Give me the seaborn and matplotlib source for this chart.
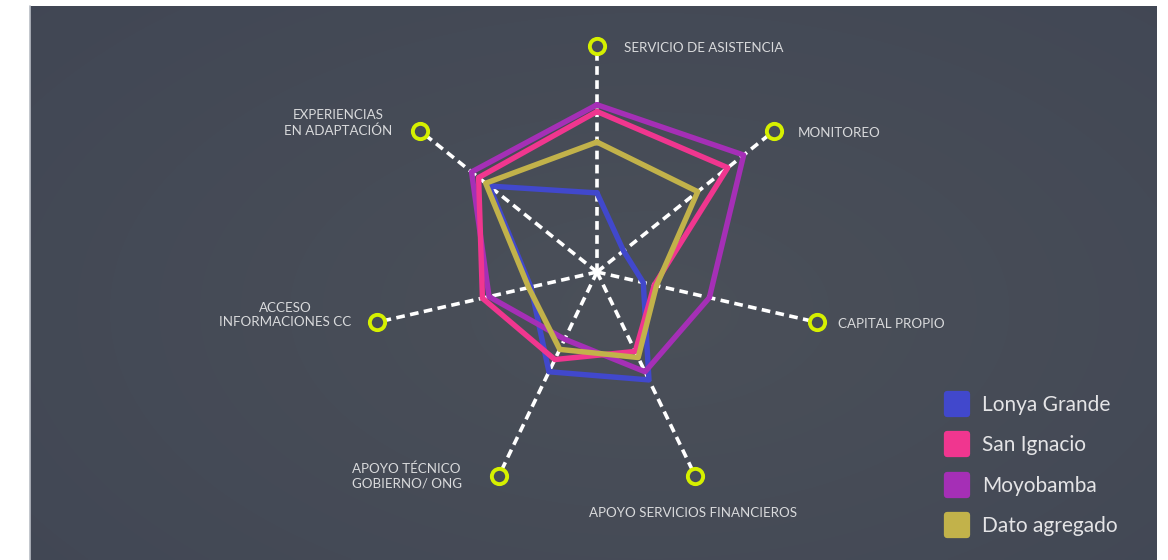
import numpy as np
import pandas as pd
import matplotlib
matplotlib.use("Agg")
import matplotlib.pyplot as plt
import seaborn as sns
from matplotlib.lines import Line2D
from matplotlib.markers import MarkerStyle

# ---------------- data ----------------
categories = [
    "SERVICIO DE ASISTENCIA",
    "MONITOREO",
    "CAPITAL PROPIO",
    "APOYO SERVICIOS FINANCIEROS",
    "APOYO TÉCNICO\nGOBIERNO/ ONG",
    "ACCESO\nINFORMACIONES CC",
    "EXPERIENCIAS\nEN ADAPTACIÓN",
]
series_names = ["Lonya Grande", "San Ignacio", "Moyobamba", "Dato agregado"]
lonya_grande = [0.35, 0.15, 0.21, 0.53, 0.49, 0.30, 0.61]
san_ignacio = [0.71, 0.74, 0.26, 0.39, 0.43, 0.52, 0.67]
moyobamba = [0.74, 0.83, 0.51, 0.49, 0.33, 0.49, 0.71]
dato_agregado = [0.575, 0.57, 0.27, 0.42, 0.38, 0.31, 0.63]

series_values = {
    "Lonya Grande": lonya_grande,
    "San Ignacio": san_ignacio,
    "Moyobamba": moyobamba,
    "Dato agregado": dato_agregado,
}
palette = {
    "Lonya Grande": "#4148cc",
    "San Ignacio": "#f0368f",
    "Moyobamba": "#a52fb6",
    "Dato agregado": "#c2b24a",
}
draw_order = ["Lonya Grande", "Moyobamba", "San Ignacio", "Dato agregado"]

# ---------------- style ----------------
sns.set_theme(style="white")
plt.rcParams["font.family"] = ["Lato", "DejaVu Sans"]

W, H = 1168, 560
fig = plt.figure(figsize=(W / 100, H / 100), dpi=100)
fig.patch.set_facecolor("white")

# background panel with soft gradient
bg_left, bg_right, bg_top = 30, 1157, 6
bg = fig.add_axes([bg_left / W, 0, (bg_right - bg_left) / W, (H - bg_top) / H])
yy, xx = np.mgrid[0:1:200j, 0:1:400j]
dist = np.sqrt(((xx - 0.55) / 0.8) ** 2 + ((yy - 0.55) / 0.9) ** 2)
dist = np.clip(dist, 0, 1)
c_in = np.array([0x4b, 0x50, 0x59]) / 255
c_out = np.array([0x40, 0x46, 0x54]) / 255
img = c_in[None, None, :] * (1 - dist[..., None]) + c_out[None, None, :] * dist[..., None]
bg.imshow(img, aspect="auto", interpolation="bilinear")
bg.axis("off")
# thin border line at left of panel
fig.add_artist(Line2D([bg_left / W, bg_left / W], [0, (H - bg_top) / H],
                      color="#b8bcc4", lw=1.2, transform=fig.transFigure))

# radar axes
cx, cy, R = 597, 272, 226
ax = fig.add_axes([(cx - R) / W, (H - cy - R) / H, 2 * R / W, 2 * R / H], projection="polar")
ax.set_theta_offset(np.pi / 2)
ax.set_theta_direction(-1)
ax.patch.set_alpha(0)
ax.grid(False)
ax.spines["polar"].set_visible(False)

n = len(categories)
angles = np.arange(n) * 2 * np.pi / n

# spokes
for a in angles:
    ax.plot([a, a], [0, 1], color="white", lw=2.6, dashes=(2.4, 1.5),
            dash_capstyle="butt", zorder=2, clip_on=False)

# series
rows = []
for name in series_names:
    vals = series_values[name]
    for i in range(n + 1):
        th = angles[i] if i < n else 2 * np.pi
        rows.append({"series": name, "theta": th, "value": vals[i % n]})
df = pd.DataFrame(rows)

for name in draw_order:
    sub = df[df["series"] == name]
    sns.lineplot(data=sub, x="theta", y="value", color=palette[name], sort=False,
                 estimator=None, lw=3.9, legend=False, ax=ax,
                 solid_joinstyle="round", zorder=3, clip_on=False)

# axis end rings
bgc = "#454b57"
ax.plot(angles, np.ones(n), ls="none", marker="o", ms=11, mfc=bgc, mec="#d6f000",
        mew=2.8, zorder=6, clip_on=False)

ax.set_ylim(0, 1)
ax.set_xticks([])
ax.set_yticks([])
ax.set_xlabel("")
ax.set_ylabel("")

# category labels (pixel anchors)
tc = "#d9dadc"
fs = 9.6
def ftext(x, y, s, ha, va="center", ma=None):
    fig.text(x / W, 1 - y / H, s, ha=ha, va=va, color=tc, fontsize=fs,
             multialignment=ma or ha, linespacing=1.25)

ftext(624, 48, categories[0], "left")
ftext(798, 133, categories[1], "left")
ftext(838, 324, categories[2], "left")
ftext(693, 513, categories[3], "center")
ftext(462, 476, categories[4], "right", ma="left")
ftext(351, 315, categories[5], "right", ma="center")
ftext(392, 123, categories[6], "right", ma="center")

# legend
handles = [
    Line2D([0], [0], ls="none", marker=MarkerStyle("s", joinstyle="round"), ms=14,
           mfc=palette[nm], mec=palette[nm], mew=4.5)
    for nm in series_names
]
fig.legend(handles, series_names, loc="upper left",
           bbox_to_anchor=(947 / W, 1 - 395 / H), frameon=False,
           prop={"size": 15},
           labelcolor="#e4e4e6", handlelength=1.0, handletextpad=0.7,
           labelspacing=0.98, borderpad=0, borderaxespad=0)

fig.savefig("out.png", dpi=100, facecolor=fig.get_facecolor())
